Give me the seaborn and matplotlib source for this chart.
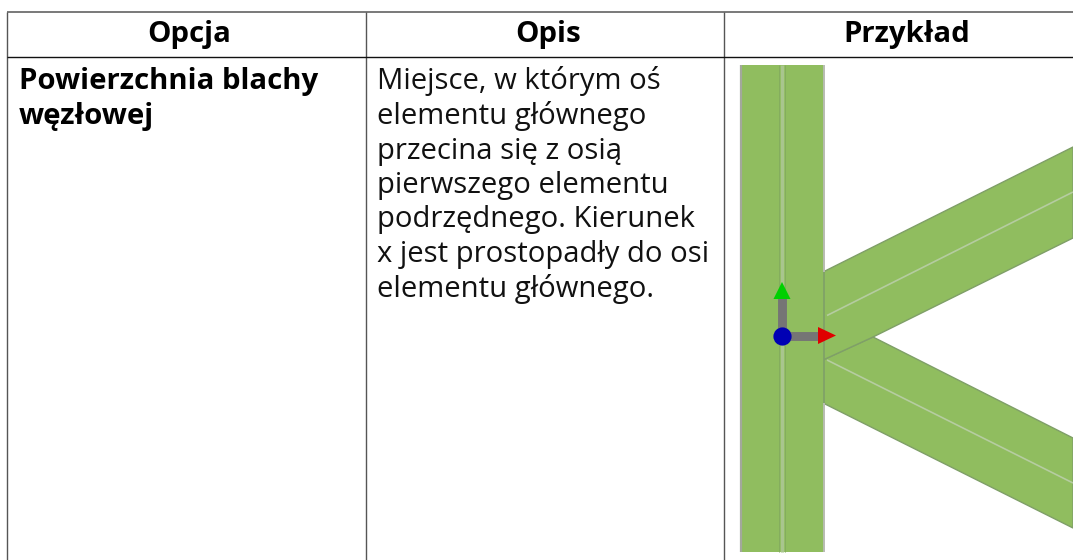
import matplotlib
matplotlib.use("Agg")
import matplotlib.pyplot as plt
import seaborn as sns
import pandas as pd

# table content
headers = ["Opcja", "Opis", "Przykład"]
option_lines = ["Powierzchnia blachy", "węzłowej"]
desc_lines = ["Miejsce, w którym oś", "elementu głównego", "przecina się z osią",
              "pierwszego elementu", "podrzędnego. Kierunek",
              "x jest prostopadły do osi", "elementu głównego."]

W, H = 1073, 560
sns.set_theme(style="white")
plt.rcParams["font.family"] = ["Open Sans", "DejaVu Sans"]

# table rules
rule_x = [7.0, 366, 724]
rule_top, rule_head, rule_bottom = 11.7, 57.3, 560
# drawing outlines
post = [(741, 65), (823.5, 65), (823.5, 552), (741, 552)]
upper = [(823, 272), (1073, 147), (1073, 238), (873, 337), (823, 360)]
lower = [(823, 360), (873, 337), (1073, 438), (1073, 528), (823, 403)]
post_axis = [(781.7, 65), (781.7, 552)]
upper_axis = [(827, 315.5), (1073, 192)]
lower_axis = [(827, 360), (1073, 483)]

fig = plt.figure(figsize=(W / 100, H / 100), dpi=100, facecolor="white")
ax = fig.add_axes([0, 0, 1, 1])
ax.set_xlim(0, W)
ax.set_ylim(H, 0)
ax.axis("off")

GREEN = "#90bd5f"
EDGE = "#7f9f68"
LIGHT = "#a9c58e"

def seg(points, color, lw, z, cap="butt"):
    df = pd.DataFrame(points, columns=["x", "y"])
    sns.lineplot(data=df, x="x", y="y", sort=False, estimator=None, color=color,
                 linewidth=lw, zorder=z, ax=ax, solid_capstyle=cap)

ax.fill(*zip(*lower), facecolor=GREEN, edgecolor=EDGE, linewidth=1.0, zorder=2)
ax.fill(*zip(*upper), facecolor=GREEN, edgecolor=EDGE, linewidth=1.0, zorder=3)
ax.fill(*zip(*post), facecolor=GREEN, edgecolor="none", zorder=4)
seg([post[0], post[3]], "#a3a89c", 1.6, 5)
seg([(823.5, 65), (823.5, 272)], "#b8bcb2", 1.4, 5)
seg([(823.5, 272), (823.5, 403)], EDGE, 1.2, 5)
seg([(823.5, 403), (823.5, 552)], "#b8bcb2", 1.4, 5)
seg(post_axis, LIGHT, 2.4, 5)
seg([(778.9, 65), (778.9, 552)], "#84ad5e", 0.7, 5)
seg([(784.5, 65), (784.5, 552)], "#84ad5e", 0.7, 5)
seg(upper_axis, "#b5cca0", 1.2, 5)
seg(lower_axis, "#b5cca0", 1.2, 5)

# coordinate-system symbol
seg([(782, 336), (782, 298)], "#757575", 6.4, 6)
seg([(782, 336), (819, 336)], "#757575", 6.4, 6)
ax.fill([773.5, 782, 790.5], [299, 282, 299], color="#00d000", zorder=7, linewidth=0)
ax.fill([818, 836, 818], [327, 335.5, 344], color="#e00000", zorder=7, linewidth=0)
ax.scatter([782], [335.7], s=172, color="#0000b4", linewidths=0, zorder=8)

# table grid
for x in rule_x:
    seg([(x, rule_top), (x, rule_bottom)], "#555555", 1.0, 9)
seg([(rule_x[0], rule_top), (W, rule_top)], "#555555", 1.1, 9)
seg([(rule_x[0], rule_head), (W, rule_head)], "#111111", 1.0, 9)

FS = 21.1
BOLD = 21.2
header_x = [189.5, 548, 906.7]
for hx, label in zip(header_x, headers):
    ax.text(hx, 41.7, label, ha="center", va="baseline", fontsize=BOLD, fontweight="bold", color="black")
for i, line in enumerate(option_lines):
    ax.text(19, 89.5 + i * 34.5, line, ha="left", va="baseline", fontsize=BOLD, fontweight="bold", color="black")
for i, line in enumerate(desc_lines):
    ax.text(377, 89.5 + i * 34.5, line, ha="left", va="baseline", fontsize=FS, color="#111111")

fig.savefig("out.png", dpi=100)
